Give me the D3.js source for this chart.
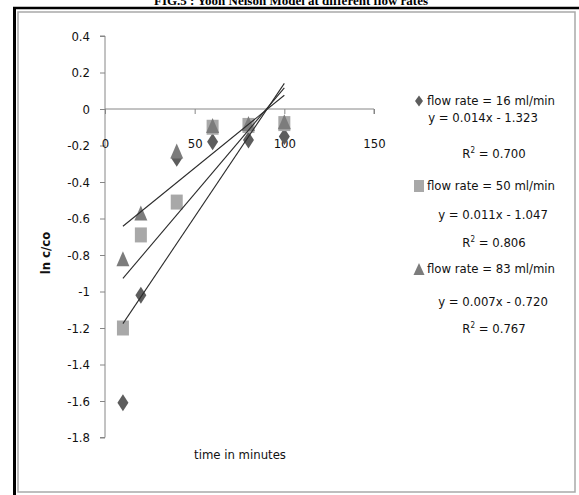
<html>
  <head>
    <meta charset="utf-8">
    <script src="https://cdnjs.cloudflare.com/ajax/libs/d3/7.8.5/d3.min.js"></script>
    <style>
      body { margin: 0; background: #fff; }
      svg { display: block; }
      .lbl { font-family: 'Liberation Sans Narrow', 'DejaVu Sans Condensed', 'Roboto', sans-serif; fill: #111; }
      .axis line, .axis path { stroke: #868686; }
    </style>
  </head>
  <body>
    <svg id="chart"></svg>
    <script>
      // chart data
      const times = [10, 20, 40, 60, 80, 100];
      const flow16 = [-1.61, -1.02, -0.27, -0.18, -0.17, -0.15];
      const flow50 = [-1.20, -0.69, -0.51, -0.10, -0.09, -0.08];
      const flow83 = [-0.82, -0.57, -0.23, -0.09, -0.08, -0.07];

      const seriesNames = ['flow rate = 16 ml/min', 'flow rate = 50 ml/min', 'flow rate = 83 ml/min'];
      const equations = ['y = 0.014x - 1.323', 'y = 0.011x - 1.047', 'y = 0.007x - 0.720'];
      const rSquared = ['0.700', '0.806', '0.767'];

      const xTicks = [0, 50, 100, 150];
      const yTicks = [0.4, 0.2, 0, -0.2, -0.4, -0.6, -0.8, -1, -1.2, -1.4, -1.6, -1.8];

      const W = 579, H = 495;
      const svg = d3.select('#chart').attr('width', W).attr('height', H);

      // caption, cropped at the top like the scan
      svg.append('text')
        .attr('x', 291).attr('y', 5)
        .attr('text-anchor', 'middle')
        .style('font-family', 'Liberation Serif, serif')
        .style('font-weight', 'bold')
        .style('font-size', '13px')
        .text('FIG.5 : Yoon Nelson Model at different flow rates');

      svg.append('line').attr('x1', 13).attr('x2', W).attr('y1', 8).attr('y2', 8)
        .style('stroke', '#000').style('stroke-width', 2.5);
      svg.append('line').attr('x1', 14.5).attr('x2', 14.5).attr('y1', 7).attr('y2', H)
        .style('stroke', '#000').style('stroke-width', 3);
      svg.append('rect').attr('x', 18).attr('y', 12).attr('width', 557).attr('height', 480)
        .style('fill', 'none').style('stroke', '#a9a9a9').style('stroke-width', 1.5);

      const x = d3.scaleLinear().domain([0, 150]).range([105, 374]);
      const y = d3.scaleLinear().domain([-1.8, 0.4]).range([437.5, 36]);

      // y axis
      const yAxis = svg.append('g')
        .attr('class', 'axis')
        .attr('transform', 'translate(' + x(0) + ',0)')
        .call(d3.axisLeft(y).tickValues(yTicks).tickSize(5).tickFormat(d => String(+d.toFixed(1))));
      yAxis.selectAll('text').attr('class', 'lbl').attr('x', -15).style('font-size', '13px');
      yAxis.select('.domain').attr('d', 'M-5,' + y(0.4) + 'H0V' + y(-1.8) + 'H-5');

      // x axis, crossing at zero, labels pushed down
      const xAxis = svg.append('g')
        .attr('class', 'axis')
        .attr('transform', 'translate(0,' + y(0) + ')')
        .call(d3.axisBottom(x).tickValues(xTicks).tickSize(5));
      xAxis.selectAll('text').attr('class', 'lbl').attr('y', 30).style('font-size', '13px');
      xAxis.select('.domain').attr('d', 'M' + x(0) + ',0H' + x(150) + 'V5');
      svg.selectAll('.axis text').style('fill', '#111');

      // axis titles
      svg.append('text').attr('class', 'lbl')
        .attr('transform', 'translate(50,253) rotate(-90)')
        .attr('text-anchor', 'middle')
        .style('font-size', '13px').style('font-weight', 'bold')
        .text('ln c/co');
      svg.append('text').attr('class', 'lbl')
        .attr('x', 240).attr('y', 459)
        .attr('text-anchor', 'middle')
        .style('font-size', '13px')
        .text('time in minutes');

      // marker shapes
      const diamond = (w, h) => 'M0,' + (-h) + 'L' + w + ',0L0,' + h + 'L' + (-w) + ',0Z';
      const square = (w, h) => 'M' + (-w) + ',' + (-h) + 'H' + w + 'V' + h + 'H' + (-w) + 'Z';
      const triangle = (w, h) => 'M0,' + (-h) + 'L' + w + ',' + h + 'H' + (-w) + 'Z';

      const series = [
        { values: flow16, shape: diamond, w: 5.5, h: 8.5, color: '#5d5d5d' },
        { values: flow50, shape: square, w: 6, h: 7.5, color: '#a8a8a8' },
        { values: flow83, shape: triangle, w: 6.5, h: 7.5, color: '#7c7c7c' }
      ];

      series.forEach(s => {
        svg.append('g').selectAll('path')
          .data(times.map((t, i) => ({ t, v: s.values[i] })))
          .enter().append('path')
          .attr('transform', d => 'translate(' + x(d.t) + ',' + y(d.v) + ')')
          .attr('d', s.shape(s.w, s.h))
          .style('fill', s.color);
      });

      // least squares trendlines over the data range
      series.forEach(s => {
        const mx = d3.mean(times), my = d3.mean(s.values);
        const sxy = d3.sum(times, (t, i) => (t - mx) * (s.values[i] - my));
        const sxx = d3.sum(times, t => (t - mx) * (t - mx));
        const slope = sxy / sxx, icpt = my - slope * mx;
        const ends = d3.extent(times);
        svg.append('line')
          .attr('x1', x(ends[0])).attr('y1', y(slope * ends[0] + icpt))
          .attr('x2', x(ends[1])).attr('y2', y(slope * ends[1] + icpt))
          .style('stroke', '#2b2b2b').style('stroke-width', 1.1);
      });

      // legend
      const legendRows = [
        { name: 105, eq: 122, r2: 158 },
        { name: 190, eq: 219, r2: 247 },
        { name: 273, eq: 306, r2: 333 }
      ];
      const legendMarks = [
        { shape: diamond, w: 4, h: 5.5 },
        { shape: square, w: 5, h: 6 },
        { shape: triangle, w: 5.5, h: 6 }
      ];

      seriesNames.forEach((name, i) => {
        const row = legendRows[i];
        svg.append('path')
          .attr('transform', 'translate(' + 419 + ',' + (row.name - 4) + ')')
          .attr('d', legendMarks[i].shape(legendMarks[i].w, legendMarks[i].h))
          .style('fill', series[i].color);
        svg.append('text').attr('class', 'lbl')
          .attr('x', 427).attr('y', row.name)
          .style('font-size', '13px')
          .text(name);
        svg.append('text').attr('class', 'lbl')
          .attr('x', i === 0 ? 483 : 493).attr('y', row.eq)
          .attr('text-anchor', 'middle')
          .style('font-size', '13px')
          .text(equations[i]);
        const r = svg.append('text').attr('class', 'lbl')
          .attr('x', 494).attr('y', row.r2)
          .attr('text-anchor', 'middle')
          .style('font-size', '13px');
        r.append('tspan').text('R');
        r.append('tspan').attr('dy', -5).style('font-size', '8px').text('2');
        r.append('tspan').attr('dy', 5).text(' = ' + rSquared[i]);
      });
    </script>
  </body>
</html>
